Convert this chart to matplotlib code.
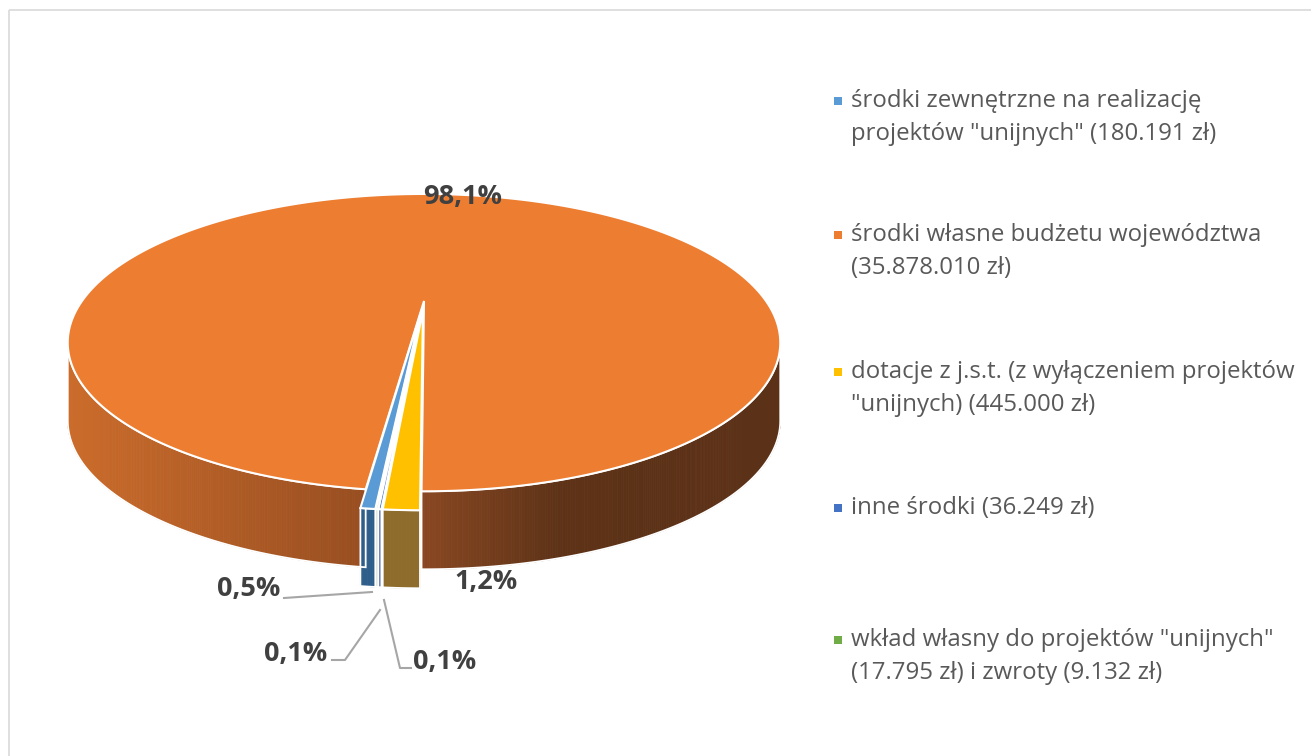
import numpy as np
import matplotlib
matplotlib.use("Agg")
import matplotlib.pyplot as plt
from matplotlib.patches import Polygon, Rectangle
from matplotlib.collections import PolyCollection
from matplotlib.colors import to_rgb

# ---------------- data ----------------
categories = [
    'środki zewnętrzne na realizację\nprojektów "unijnych" (180.191 zł)',
    'środki własne budżetu województwa\n(35.878.010 zł)',
    'dotacje z j.s.t. (z wyłączeniem projektów\n"unijnych) (445.000 zł)',
    'inne środki (36.249 zł)',
    'wkład własny do projektów "unijnych"\n(17.795 zł) i zwroty (9.132 zł)',
]
values = [180191, 35878010, 445000, 36249, 26927]
pct_labels = ["0,5%", "98,1%", "1,2%", "0,1%", "0,1%"]

# ---------------- style ----------------
colors = ["#5B9BD5", "#ED7D31", "#FFC000", "#4472C4", "#70AD47"]
rim_colors = ["#2E5E8A", None, "#8E6C2B", "#3A5C9E", "#4E7A32"]
explode = [0.07, 0.0, 0.07, 0.07, 0.07]
start_deg = 185.3

FONT = "Open Sans"
W, H = 1311, 756
fig = plt.figure(figsize=(W / 100, H / 100), dpi=100)
ax = fig.add_axes([0, 0, 1, 1])
ax.set_xlim(0, W)
ax.set_ylim(H, 0)
ax.axis("off")

# frame
ax.add_patch(Rectangle((9, 10), 1400, 800, fill=False, edgecolor="#D9D9D9", lw=1.2))

# perspective projection of the pie plane
cx, C, dsc, g, a = 424.0, 301.0, 137.0, 0.28, 342.0
depth = 78.0


def proj(X, Y, z=0.0):
    w = 1 + g * Y
    return cx + a * X / w, C - dsc * Y / w + z


vals = np.array(values, dtype=float)
fr = vals / vals.sum()
bounds = start_deg + 360 * np.concatenate([[0], np.cumsum(fr)])

vis_lo = np.degrees(np.arccos(-g))
vis_hi = 360 - vis_lo

orange_stops_x = [68, 365, 420, 560, 790]
orange_stops_c = [to_rgb(c) for c in ["#CB6C2B", "#984E21", "#8A4822", "#5D3217", "#5B3117"]]


def rim_color_at(x):
    return tuple(np.interp(x, orange_stops_x, [c[k] for c in orange_stops_c]) for k in range(3))


def slice_offset(t1, t2, ex):
    tm = np.radians((t1 + t2) / 2)
    return ex * np.sin(tm), ex * np.cos(tm)


def draw_rim(t1, t2, ex, color, gradient=False):
    ox, oy = slice_offset(t1, t2, ex)
    lo, hi = t1, t2
    while lo >= 360:
        lo -= 360
        hi -= 360
    segs = []
    for base in (0, 360):
        s, e = max(lo, vis_lo + base), min(hi, vis_hi + base)
        if e > s:
            segs.append((s, e))
    for s, e in segs:
        th = np.radians(np.linspace(s, e, max(3, int((e - s) * 3) + 2)))
        X = np.sin(th) + ox
        Y = np.cos(th) + oy
        xt, yt = proj(X, Y)
        xb, yb = xt, yt + depth
        quads, cols = [], []
        for i in range(len(th) - 1):
            quads.append([(xt[i], yt[i]), (xt[i + 1], yt[i + 1]), (xb[i + 1], yb[i + 1]), (xb[i], yb[i])])
            cols.append(rim_color_at((xt[i] + xt[i + 1]) / 2) if gradient else color)
        ax.add_collection(PolyCollection(quads, facecolors=cols, edgecolors=cols, linewidths=0.6, zorder=2))
        outline = list(zip(xt, yt)) + list(zip(xb[::-1], yb[::-1]))
        ax.add_patch(Polygon(outline, closed=True, fill=False, edgecolor="white", lw=1.3, zorder=2.5))


def draw_top(t1, t2, ex, color, z=3):
    ox, oy = slice_offset(t1, t2, ex)
    th = np.radians(np.linspace(t1, t2, max(3, int((t2 - t1) * 2) + 2)))
    X = np.concatenate([[ox], np.sin(th) + ox])
    Y = np.concatenate([[oy], np.cos(th) + oy])
    xs, ys = proj(X, Y)
    ax.add_patch(Polygon(list(zip(xs, ys)), closed=True, facecolor=color,
                         edgecolor="white", lw=1.5, zorder=z, joinstyle="miter"))


i_big = int(np.argmax(vals))
draw_rim(bounds[i_big], bounds[i_big + 1], explode[i_big], None, gradient=True)
draw_top(bounds[i_big], bounds[i_big + 1], explode[i_big], colors[i_big], z=3)

order = [i for i in range(len(vals)) if i != i_big]
for i in order:
    draw_rim(bounds[i], bounds[i + 1], explode[i], rim_colors[i])
for i in order:
    draw_top(bounds[i], bounds[i + 1], explode[i], colors[i], z=4)

# ---------------- data labels ----------------
lab_kw = dict(fontsize=19.5, fontweight="bold", color="#404040", family=FONT, zorder=6)
label_pos = {0: (249, 589), 1: (463, 197), 2: (486, 582), 3: (296, 654), 4: (445, 662)}
for i, (x, y) in label_pos.items():
    ax.text(x, y, pct_labels[i], ha="center", va="center", **lab_kw)

lc = "#A6A6A6"
ax.plot([284, 372], [598, 592], color=lc, lw=1.5, zorder=5)
ax.plot([332, 345, 380], [660, 660, 610], color=lc, lw=1.5, zorder=5)
ax.plot([384, 400, 411], [600, 668, 668], color=lc, lw=1.5, zorder=5)

# ---------------- legend ----------------
leg_y = [101, 235, 372, 508, 640]
line_gap = 33
for i, lab in enumerate(categories):
    y0 = leg_y[i]
    ax.add_patch(Rectangle((834, y0 - 4), 8, 8, facecolor=colors[i], edgecolor="none", zorder=6))
    for k, line in enumerate(lab.split("\n")):
        ax.text(851, y0 + k * line_gap, line, ha="left", va="center", fontsize=17.3,
                color="#595959", family=FONT, zorder=6)

fig.savefig("out.png", dpi=100, facecolor="white")
